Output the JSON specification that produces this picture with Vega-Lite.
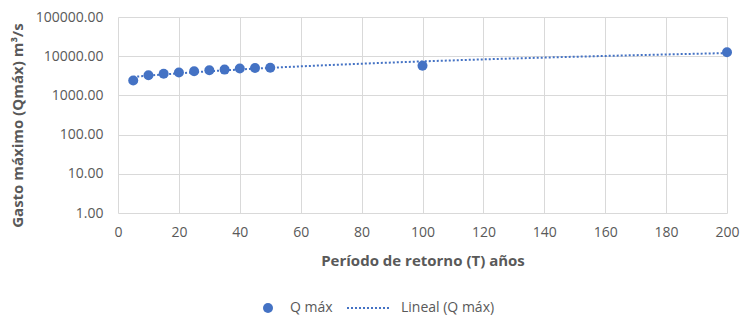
{
  "$schema": "https://vega.github.io/schema/vega-lite/v6.json",
  "width": 609,
  "height": 196,
  "autosize": "none",
  "padding": {"left": 118, "top": 17, "right": 14, "bottom": 102},
  "background": "white",
  "config": {
    "view": {"stroke": null},
    "font": "Open Sans",
    "axis": {
      "labelColor": "#595959",
      "titleColor": "#595959",
      "labelFont": "Open Sans",
      "titleFont": "Open Sans",
      "labelFontSize": 14,
      "titleFontSize": 15,
      "titleFontWeight": "bold",
      "gridColor": "#d9d9d9",
      "gridWidth": 1,
      "domain": false,
      "ticks": false,
      "labelFlush": false
    }
  },
  "data": {
    "values": [
      {"T": 5, "Q": 2400},
      {"T": 10, "Q": 3250},
      {"T": 15, "Q": 3550},
      {"T": 20, "Q": 3850},
      {"T": 25, "Q": 4150},
      {"T": 30, "Q": 4400},
      {"T": 35, "Q": 4550},
      {"T": 40, "Q": 4850},
      {"T": 45, "Q": 5000},
      {"T": 50, "Q": 5100},
      {"T": 100, "Q": 5700},
      {"T": 200, "Q": 12600}
    ]
  },
  "encoding": {
    "x": {
      "field": "T",
      "type": "quantitative",
      "scale": {"domain": [0, 200], "nice": false, "zero": false},
      "axis": {
        "values": [0, 20, 40, 60, 80, 100, 120, 140, 160, 180, 200],
        "title": "Período de retorno (T) años",
        "labelPadding": 12,
        "titlePadding": 14
      }
    },
    "y": {
      "field": "Q",
      "type": "quantitative",
      "scale": {"type": "log", "domain": [1, 100000], "nice": false},
      "axis": {
        "values": [1, 10, 100, 1000, 10000, 100000],
        "format": ".2f",
        "title": "Gasto máximo (Qmáx) m³/s",
        "labelPadding": 15,
        "titlePadding": 10,
        "titleY": 108
      }
    }
  },
  "layer": [
    {
      "transform": [
        {"regression": "Q", "on": "T", "method": "poly", "order": 1}
      ],
      "mark": {"type": "line", "strokeDash": [2, 2], "strokeWidth": 2},
      "encoding": {
        "color": {
          "datum": "Lineal (Q máx)",
          "legend": {
            "orient": "none",
            "direction": "horizontal",
            "legendX": 118,
            "legendY": 284,
            "title": null,
            "labelFont": "Open Sans",
            "labelFontSize": 14,
            "labelColor": "#595959",
            "symbolSize": 1936,
            "columnPadding": 10,
            "labelOffset": 10,
            "encode": {
              "symbols": {
                "update": {
                  "shape": {"signal": "datum.value === 'Q máx' ? 'circle' : 'stroke'"},
                  "size": {"signal": "datum.value === 'Q máx' ? 100 : 1936"},
                  "x": {"signal": "datum.value === 'Q máx' ? 32 : 22"},
                  "fill": {"signal": "datum.value === 'Q máx' ? '#4472C4' : 'transparent'"},
                  "stroke": {"value": "#4472C4"},
                  "strokeWidth": {"signal": "datum.value === 'Q máx' ? 0 : 2"},
                  "strokeDash": {"signal": "datum.value === 'Q máx' ? [1, 0] : [2, 2]"},
                  "opacity": {"value": 1}
                }
              },
              "labels": {
                "update": {
                  "x": {"value": 54}
                }
              }
            }
          }
        }
      }
    },
    {
      "mark": {"type": "point", "filled": true, "size": 100, "opacity": 1, "shape": "circle"},
      "encoding": {
        "color": {
          "datum": "Q máx",
          "scale": {
            "domain": ["Q máx", "Lineal (Q máx)"],
            "range": ["#4472C4", "#4472C4"]
          },
          "legend": {
            "orient": "none",
            "direction": "horizontal",
            "legendX": 118,
            "legendY": 284,
            "title": null,
            "labelFont": "Open Sans",
            "labelFontSize": 14,
            "labelColor": "#595959",
            "symbolSize": 1936,
            "columnPadding": 10,
            "labelOffset": 10,
            "encode": {
              "symbols": {
                "update": {
                  "shape": {"signal": "datum.value === 'Q máx' ? 'circle' : 'stroke'"},
                  "size": {"signal": "datum.value === 'Q máx' ? 100 : 1936"},
                  "x": {"signal": "datum.value === 'Q máx' ? 32 : 22"},
                  "fill": {"signal": "datum.value === 'Q máx' ? '#4472C4' : 'transparent'"},
                  "stroke": {"value": "#4472C4"},
                  "strokeWidth": {"signal": "datum.value === 'Q máx' ? 0 : 2"},
                  "strokeDash": {"signal": "datum.value === 'Q máx' ? [1, 0] : [2, 2]"},
                  "opacity": {"value": 1}
                }
              },
              "labels": {
                "update": {
                  "x": {"value": 54}
                }
              }
            }
          }
        }
      }
    }
  ]
}
